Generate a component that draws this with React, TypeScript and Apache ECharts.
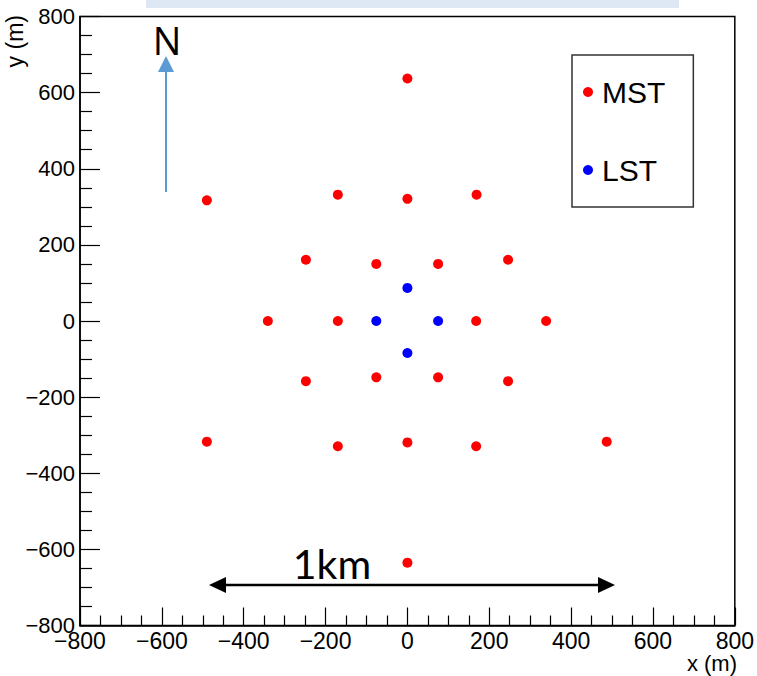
import React, { useEffect, useRef } from "react";
import * as echarts from "echarts";

const mstX = [0, -490, -170, 0, 169, -248, -76, 75, 246, -341, -170, 168, 339, -248, -76, 75, 246, -490, -170, 0, 168, 487, 0];
const mstY = [637, 317, 332, 321, 332, 161, 150, 150, 161, 0, 0, 0, 0, -158, -148, -148, -158, -317, -329, -319, -329, -317, -635];
const lstX = [0, -76, 75, 0];
const lstY = [87, 0, 0, -84];
const axisTicks = [-800, -600, -400, -200, 0, 200, 400, 600, 800];

const fmt = (v: number) => String(v).replace("-", "\u2212");

export default function App() {
  const ref = useRef<HTMLDivElement>(null);
  useEffect(() => {
    const chart = echarts.init(ref.current!, null, { renderer: "svg" });
    const lab = "'Liberation Sans', Arial, Helvetica, sans-serif";
    const axisCommon = {
      type: "value" as const,
      min: axisTicks[0],
      max: axisTicks[axisTicks.length - 1],
      interval: 200,
      splitLine: { show: false },
      axisLine: { onZero: false, lineStyle: { color: "#000", width: 1.5 } },
    };
    chart.setOption({
      animation: false,
      backgroundColor: "#fff",
      grid: { left: 80, right: 20, top: 16.5, bottom: 50.5, show: true, borderColor: "#000", borderWidth: 1.5, backgroundColor: "transparent" },
      xAxis: {
        ...axisCommon,
        axisTick: { inside: true, length: 18, lineStyle: { color: "#000", width: 1.2 } },
        minorTick: { show: true, splitNumber: 4, length: 10, lineStyle: { color: "#000", width: 1.2 } },
        axisLabel: { color: "#000", fontSize: 23, fontFamily: lab, margin: 4, formatter: fmt },
      },
      yAxis: {
        ...axisCommon,
        axisTick: { inside: true, length: 20, lineStyle: { color: "#000", width: 1.2 } },
        minorTick: { show: true, splitNumber: 4, length: 12, lineStyle: { color: "#000", width: 1.2 } },
        axisLabel: { color: "#000", fontSize: 22, fontFamily: lab, margin: 5, formatter: fmt },
      },
      legend: {
        orient: "vertical",
        left: 572,
        top: 55,
        padding: [22, 28, 22, 11],
        itemGap: 48,
        itemWidth: 10,
        itemHeight: 10,
        icon: "circle",
        borderColor: "#333",
        borderWidth: 1.5,
        backgroundColor: "#fff",
        textStyle: { color: "#000", fontSize: 30, fontFamily: lab, padding: [0, 0, 0, 4] },
        data: ["MST", "LST"],
      },
      series: [
        {
          name: "MST",
          type: "scatter",
          symbol: "circle",
          symbolSize: 10,
          itemStyle: { color: "#ff0000", opacity: 1 },
          data: mstX.map((x, i) => [x, mstY[i]]),
        },
        {
          name: "LST",
          type: "scatter",
          symbol: "circle",
          symbolSize: 10,
          itemStyle: { color: "#0000ff", opacity: 1 },
          data: lstX.map((x, i) => [x, lstY[i]]),
        },
      ],
      graphic: [
        { type: "rect", shape: { x: 146, y: 0, width: 533, height: 8 }, style: { fill: "#dde8f4" } },
        {
          type: "text",
          x: 737,
          y: 663,
          style: { text: "x (m)", fill: "#000", font: "22px " + lab, align: "right", verticalAlign: "middle" },
        },
        {
          type: "text",
          x: 15,
          y: 15,
          rotation: Math.PI / 2,
          style: { text: "y (m)", fill: "#000", font: "23px " + lab, align: "right", verticalAlign: "middle" },
        },
        { type: "line", shape: { x1: 166, y1: 192, x2: 166, y2: 68 }, style: { stroke: "#5b9bd5", lineWidth: 2 } },
        { type: "polygon", shape: { points: [[166, 56], [158, 72], [174, 72]] }, style: { fill: "#5b9bd5" } },
        {
          type: "text",
          x: 167,
          y: 40,
          style: { text: "N", fill: "#000", font: "38px 'Open Sans', sans-serif", align: "center", verticalAlign: "middle" },
        },
        { type: "line", shape: { x1: 222, y1: 585, x2: 602, y2: 585 }, style: { stroke: "#000", lineWidth: 2.5 } },
        { type: "polygon", shape: { points: [[209, 585], [226, 577], [226, 593]] }, style: { fill: "#000" } },
        { type: "polygon", shape: { points: [[615, 585], [598, 577], [598, 593]] }, style: { fill: "#000" } },
        {
          type: "text",
          x: 332,
          y: 563,
          style: { text: "1km", fill: "#000", font: "41px Lato, 'Open Sans', sans-serif", align: "center", verticalAlign: "middle" },
        },
      ],
    });
    return () => chart.dispose();
  }, []);
  return <div ref={ref} style={{ position: "fixed", left: 0, top: 0, width: 757, height: 676 }} />;
}
